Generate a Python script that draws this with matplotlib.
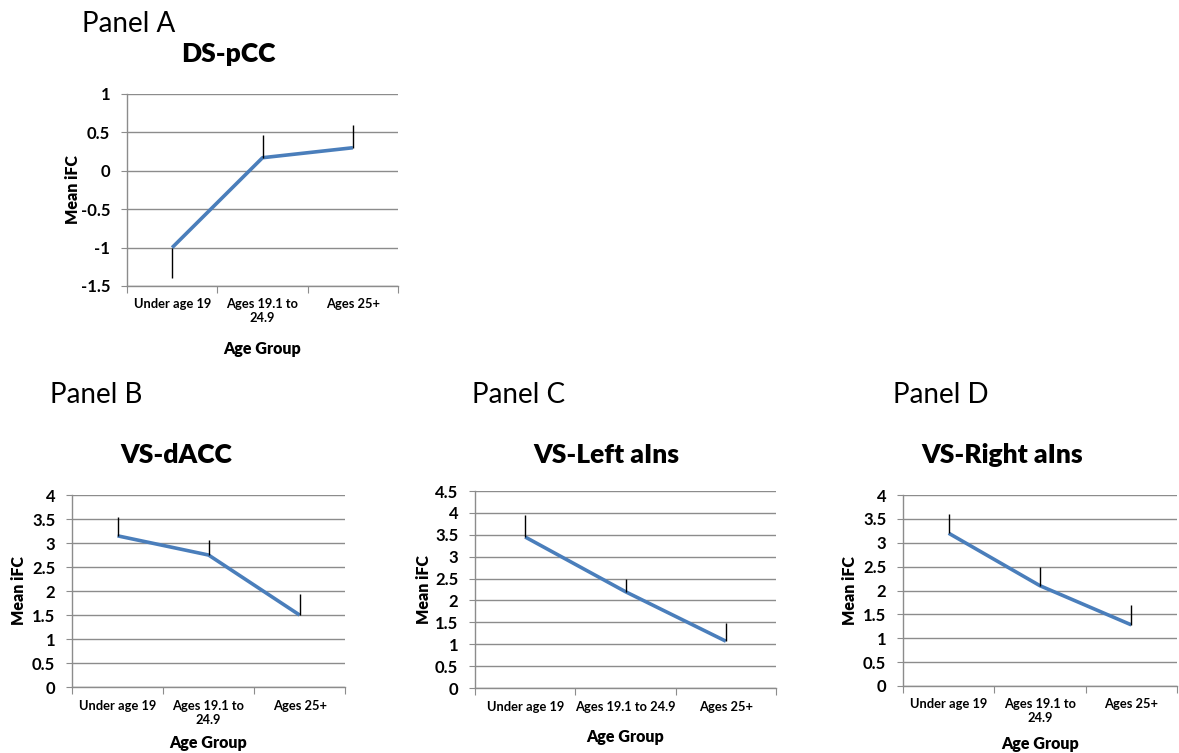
import numpy as np
import matplotlib
matplotlib.use("Agg")
import matplotlib.pyplot as plt
from matplotlib.ticker import FixedLocator, NullFormatter

plt.rcParams['font.family'] = ['Lato', 'DejaVu Sans']

# data
groups_wrap = ["Under age 19", "Ages 19.1 to\n24.9", "Ages 25+"]
groups_flat = ["Under age 19", "Ages 19.1 to 24.9", "Ages 25+"]

ds_pcc = [-1.0, 0.17, 0.30]
ds_pcc_lo = [0.40, 0.0, 0.0]
ds_pcc_hi = [0.0, 0.30, 0.30]

vs_dacc = [3.15, 2.75, 1.50]
vs_dacc_hi = [0.40, 0.32, 0.43]

vs_lains = [3.45, 2.20, 1.07]
vs_lains_hi = [0.50, 0.30, 0.41]

vs_rains = [3.20, 2.10, 1.28]
vs_rains_hi = [0.40, 0.40, 0.42]

line_col = "#4a7ebb"
grid_col = "#8c8c8c"

W, H = 1179, 753
fig = plt.figure(figsize=(W / 100, H / 100), dpi=100)


def panel(rect, vals, lo, hi, ylim, ystep, labels, title, title_xy,
          ylab_pad=3.5, xlab_pad=12):
    ax = fig.add_axes(rect)
    x = np.arange(len(vals)) + 0.5
    ax.plot(x, vals, color=line_col, lw=2.6, solid_capstyle='butt', zorder=3)
    ax.errorbar(x, vals, yerr=[lo, hi], fmt='none', ecolor='black',
                elinewidth=1.0, capsize=0, zorder=4)
    ax.set_xlim(0, len(vals))
    ax.set_ylim(*ylim)
    yt = np.arange(ylim[0], ylim[1] + ystep / 2, ystep)
    ax.set_yticks(yt)
    ax.set_yticklabels(["%g" % v for v in yt], fontsize=12, fontweight='bold')
    ax.yaxis.grid(True, color=grid_col, lw=1.0)
    ax.set_axisbelow(True)
    for s in ['top', 'right']:
        ax.spines[s].set_visible(False)
    for s in ['left', 'bottom']:
        ax.spines[s].set_color(grid_col)
        ax.spines[s].set_linewidth(1.0)
    ax.tick_params(axis='y', length=4, color=grid_col, pad=8)
    ax.xaxis.set_major_locator(FixedLocator(np.arange(len(vals) + 1)))
    ax.xaxis.set_major_formatter(NullFormatter())
    ax.xaxis.set_minor_locator(FixedLocator(x))
    ax.set_xticklabels(labels, minor=True, fontsize=9.3, fontweight='bold')
    ax.tick_params(axis='x', which='major', length=5, color=grid_col)
    ax.tick_params(axis='x', which='minor', length=0, pad=9)
    ax.set_xlabel("Age Group", fontsize=11.5, fontweight='heavy', labelpad=xlab_pad)
    ax.set_ylabel("Mean iFC", fontsize=11.5, fontweight='heavy', labelpad=ylab_pad)
    fig.text(title_xy[0] / W, 1 - title_xy[1] / H, title, fontsize=19,
             fontweight='heavy', ha='center', va='baseline')
    return ax


panel([0.1077, 0.6202, 0.2299, 0.2550], ds_pcc, ds_pcc_lo, ds_pcc_hi,
      (-1.5, 1.0), 0.5, groups_wrap, "DS-pCC", (228, 62), ylab_pad=0)
panel([0.0611, 0.0876, 0.2316, 0.2550], vs_dacc, [0, 0, 0], vs_dacc_hi,
      (0, 4), 0.5, groups_wrap, "VS-dACC", (176, 463), xlab_pad=7)
panel([0.4029, 0.0863, 0.2553, 0.2616], vs_lains, [0, 0, 0], vs_lains_hi,
      (0, 4.5), 0.5, groups_flat, "VS-Left aIns", (606, 463), ylab_pad=2)
panel([0.7659, 0.0890, 0.2324, 0.2536], vs_rains, [0, 0, 0], vs_rains_hi,
      (0, 4), 0.5, groups_wrap, "VS-Right aIns", (1002, 463), xlab_pad=8)

for lab, px, py in [("Panel A", 82, 32), ("Panel B", 50, 403),
                    ("Panel C", 472, 403), ("Panel D", 893, 403)]:
    fig.text(px / W, 1 - py / H, lab, fontsize=20, va='baseline')

fig.savefig("out.png", dpi=100)
